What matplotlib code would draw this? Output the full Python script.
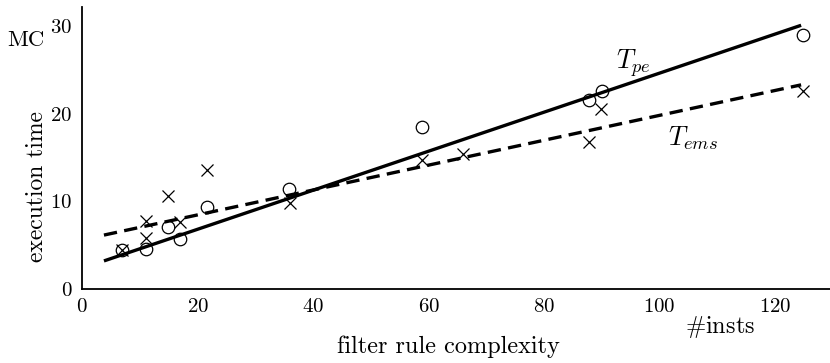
import matplotlib
matplotlib.use("Agg")
import matplotlib.pyplot as plt

plt.rcParams['font.family'] = ['cmr10', 'DejaVu Serif']
plt.rcParams['mathtext.fontset'] = 'cm'
plt.rcParams['axes.formatter.use_mathtext'] = True

# data
pe_x = [6.9, 11.1, 14.95, 17.0, 21.7, 35.9, 58.8, 87.8, 90.0, 124.8]
pe_y = [4.45, 4.56, 7.1, 5.66, 9.3, 11.37, 18.5, 21.55, 22.6, 28.96]
ems_x = [6.9, 11.1, 11.1, 14.95, 17.0, 21.7, 36.0, 58.9, 65.9, 87.8, 89.8, 124.8]
ems_y = [4.4, 5.78, 7.8, 10.6, 7.68, 13.57, 9.84, 14.7, 15.35, 16.8, 20.5, 22.6]
fit_x = [3.8, 124.5]
pe_fit = [3.2, 30.1]
ems_fit = [6.15, 23.3]
xticks = [0, 20, 40, 60, 80, 100, 120]
yticks = [0, 10, 20, 30]

fig = plt.figure(figsize=(8.3, 3.63), dpi=100)
ax = fig.add_axes([0.0988, 0.204, 0.9012, 0.777])

ax.plot(fit_x, pe_fit, '-', color='black', lw=2.4, solid_capstyle='butt')
ax.plot(fit_x, ems_fit, '--', color='black', lw=2.4, dashes=(4.0, 2.2))
ax.plot(pe_x, pe_y, 'o', mfc='none', mec='black', ms=9, mew=0.9)
ax.plot(ems_x, ems_y, 'x', color='black', ms=9, mew=0.9)

ax.set_xlim(0, 129.5)
ax.set_ylim(0, 32.2)
ax.set_xticks(xticks)
ax.set_yticks(yticks)
ax.tick_params(length=0, labelsize=15)
ax.tick_params(axis='x', pad=6.5)
ax.tick_params(axis='y', pad=7)
for s in ['top', 'right']:
    ax.spines[s].set_visible(False)
for s in ['left', 'bottom']:
    ax.spines[s].set_linewidth(1.3)

ax.text(95.4, 25.8, r'$T_{pe}$', fontsize=19, ha='center', va='center')
ax.text(105.8, 17.2, r'$T_{ems}$', fontsize=19, ha='center', va='center')

fig.text(26/830, 1 - 40/363, 'MC', fontsize=16.5, ha='center', va='center')
fig.text(37/830, 1 - 187/363, 'execution time', fontsize=17, ha='center', va='center', rotation=90)
fig.text(448/830, 1 - 347/363, 'filter rule complexity', fontsize=17.5, ha='center', va='center')
fig.text(720/830, 1 - 327/363, r'$\#$insts', fontsize=17.5, ha='center', va='center')

fig.savefig('out.png', dpi=100)
